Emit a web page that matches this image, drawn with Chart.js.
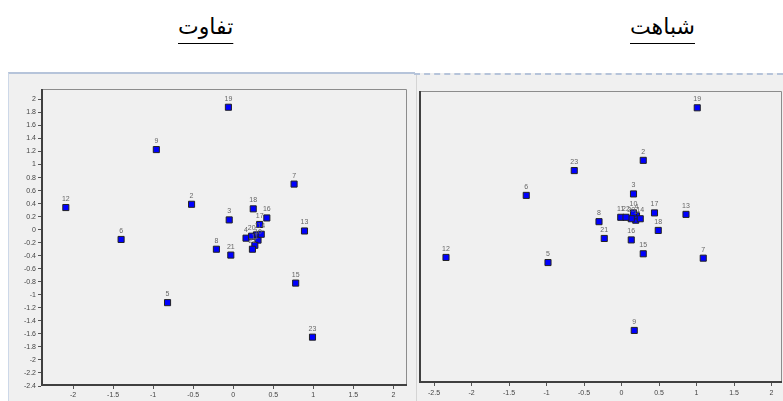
<!DOCTYPE html>
<html>
<head>
<meta charset="utf-8">
<script src="https://cdn.jsdelivr.net/npm/chart.js@4.4.1/dist/chart.umd.min.js"></script>
<style>
  body { margin: 0; width: 783px; height: 401px; background: #fff; position: relative; overflow: hidden; }
  .title { position: absolute; top: 14px; font-family: "DejaVu Sans", sans-serif; font-size: 22px; color: #000;
           text-decoration: underline; text-underline-offset: 9px; text-decoration-thickness: 1px; direction: rtl; }
  .panel { position: absolute; background: #f0f0f0; }
  canvas { position: absolute; }
</style>
</head>
<body>
<div class="title" id="t1" style="left:178px;">تفاوت</div>
<div class="title" id="t2" style="left:630px;">شباهت</div>

<div class="panel" style="left:8px; top:72px; width:406px; height:329px; border-top:2px solid #b6c4da; border-left:1px solid #cdd8e8;"></div>
<div class="panel" style="left:414px; top:73px; width:369px; height:328px; border-top:2px dashed #b6c4da;"></div>
<div style="position:absolute; left:416px; top:75px; width:1px; height:326px; background:#d4d4d4;"></div>

<canvas id="ctx_diff" width="404" height="327" style="left:9px; top:74px;"></canvas>
<canvas id="ctx_sim" width="365" height="325" style="left:418px; top:76px;"></canvas>

<script>
// point ids 1..23
const pointIds = ['1', '2', '3', '4', '5', '6', '7', '8', '9', '10', '11', '12',
                  '13', '14', '15', '16', '17', '18', '19', '20', '21', '22', '23'];

// left chart (تفاوت)
const diffX = [0.29, -0.52, -0.05, 0.16, -0.82, -1.40, 0.76, -0.21, -0.96, 0.31, 0.27, -2.09,
               0.89, 0.35, 0.78, 0.42, 0.33, 0.25, -0.06, 0.23, -0.03, 0.24, 0.99];
const diffY = [-0.08, 0.39, 0.15, -0.13, -1.12, -0.15, 0.70, -0.30, 1.23, -0.16, -0.24, 0.34,
               -0.02, -0.07, -0.82, 0.18, 0.08, 0.32, 1.88, -0.10, -0.39, -0.30, -1.65];

// right chart (شباهت)
const simX = [0.19, 0.29, 0.16, 0.20, -0.98, -1.27, 1.09, -0.30, 0.17, 0.16, -0.01, -2.34,
              0.86, 0.25, 0.29, 0.13, 0.44, 0.49, 1.01, 0.13, -0.23, 0.06, -0.63];
const simY = [0.03, 0.85, 0.39, 0.09, -0.55, 0.37, -0.49, 0.01, -1.48, 0.13, 0.07, -0.48,
              0.11, 0.05, -0.43, -0.24, 0.13, -0.11, 1.57, 0.05, -0.22, 0.07, 0.71];

// tick labels
const diffXTicks = [-2, -1.5, -1, -0.5, 0, 0.5, 1, 1.5, 2];
const diffYTicks = [-2.4, -2.2, -2, -1.8, -1.6, -1.4, -1.2, -1, -0.8, -0.6, -0.4, -0.2,
                    0, 0.2, 0.4, 0.6, 0.8, 1, 1.2, 1.4, 1.6, 1.8, 2];
const simXTicks = [-2.5, -2, -1.5, -1, -0.5, 0, 0.5, 1, 1.5, 2];

const tickFont = { family: 'Liberation Sans', size: 7 };

const frame = {
    id: 'frame',
    beforeDraw(chart) {
        const c = chart.ctx;
        c.save();
        c.fillStyle = '#f0f0f0';
        c.fillRect(0, 0, chart.width, chart.height);
        c.restore();
    },
    afterDraw(chart) {
        const a = chart.chartArea;
        const c = chart.ctx;
        c.save();
        c.strokeStyle = '#8c8c8c';
        c.lineWidth = 1;
        c.beginPath();
        c.moveTo(a.left, a.top + 0.5);
        c.lineTo(a.right - 0.5, a.top + 0.5);
        c.lineTo(a.right - 0.5, a.bottom);
        c.stroke();
        c.strokeStyle = '#404040';
        c.lineWidth = 2;
        c.beginPath();
        c.moveTo(a.left + 1, a.top);
        c.lineTo(a.left + 1, a.bottom - 1);
        c.lineTo(a.right, a.bottom - 1);
        c.stroke();
        c.restore();
    }
};

const pointLabels = {
    id: 'pointLabels',
    afterDatasetsDraw(chart) {
        const c = chart.ctx;
        const meta = chart.getDatasetMeta(0);
        c.save();
        c.font = '7px "Liberation Sans"';
        c.fillStyle = '#666';
        c.textAlign = 'center';
        c.textBaseline = 'bottom';
        meta.data.forEach((el, i) => {
            c.fillText(pointIds[i], el.x, el.y - 5);
        });
        c.restore();
    }
};

function makePoints(xs, ys) {
    return xs.map((x, i) => ({ x: x, y: ys[i] }));
}

function axisTicks(list) {
    return scale => { scale.ticks = list.map(v => ({ value: v })); };
}

function fixHeight(h) {
    return s => { s.height = h; s.paddingLeft = 0; s.paddingRight = 0; };
}

const plainLabel = v => String(v);

new Chart(document.getElementById('ctx_diff'), {
    type: 'scatter',
    data: {
        datasets: [{
            data: makePoints(diffX, diffY),
            pointStyle: 'rect',
            pointRadius: 4.3,
            pointHoverRadius: 4.3,
            backgroundColor: '#0000ff',
            borderColor: '#222',
            borderWidth: 1
        }]
    },
    options: {
        responsive: false,
        animation: false,
        layout: { autoPadding: false, padding: { top: 15, right: 6, left: 0, bottom: 0 } },
        scales: {
            x: {
                type: 'linear',
                min: -2.4,
                max: 2.17,
                afterBuildTicks: axisTicks(diffXTicks),
                afterFit: fixHeight(15),
                border: { display: false },
                grid: { drawOnChartArea: false, drawTicks: true, tickLength: 3, color: '#555' },
                ticks: { font: tickFont, color: '#444', padding: 2, maxRotation: 0, autoSkip: false, callback: plainLabel }
            },
            y: {
                type: 'linear',
                min: -2.4,
                max: 2.16,
                afterBuildTicks: axisTicks(diffYTicks),
                afterFit: s => { s.width = 32; s.paddingTop = 0; s.paddingBottom = 0; },
                border: { display: false },
                grid: { drawOnChartArea: false, drawTicks: true, tickLength: 3, color: '#555' },
                ticks: { font: tickFont, color: '#444', padding: 2, autoSkip: false, callback: plainLabel }
            }
        },
        plugins: {
            legend: { display: false },
            tooltip: { enabled: false }
        }
    },
    plugins: [frame, pointLabels]
});

new Chart(document.getElementById('ctx_sim'), {
    type: 'scatter',
    data: {
        datasets: [{
            data: makePoints(simX, simY),
            pointStyle: 'rect',
            pointRadius: 4.3,
            pointHoverRadius: 4.3,
            backgroundColor: '#0000ff',
            borderColor: '#222',
            borderWidth: 1
        }]
    },
    options: {
        responsive: false,
        animation: false,
        layout: { autoPadding: false, padding: { top: 15, right: 1, left: 1, bottom: 0 } },
        scales: {
            x: {
                type: 'linear',
                min: -2.7,
                max: 2.14,
                afterBuildTicks: axisTicks(simXTicks),
                afterFit: fixHeight(18),
                border: { display: false },
                grid: { drawOnChartArea: false, drawTicks: true, tickLength: 3, color: '#555' },
                ticks: { font: tickFont, color: '#444', padding: 3, maxRotation: 0, autoSkip: false, callback: plainLabel }
            },
            y: {
                type: 'linear',
                display: false,
                min: -2.2,
                max: 1.8
            }
        },
        plugins: {
            legend: { display: false },
            tooltip: { enabled: false }
        }
    },
    plugins: [frame, pointLabels]
});
</script>
</body>
</html>
